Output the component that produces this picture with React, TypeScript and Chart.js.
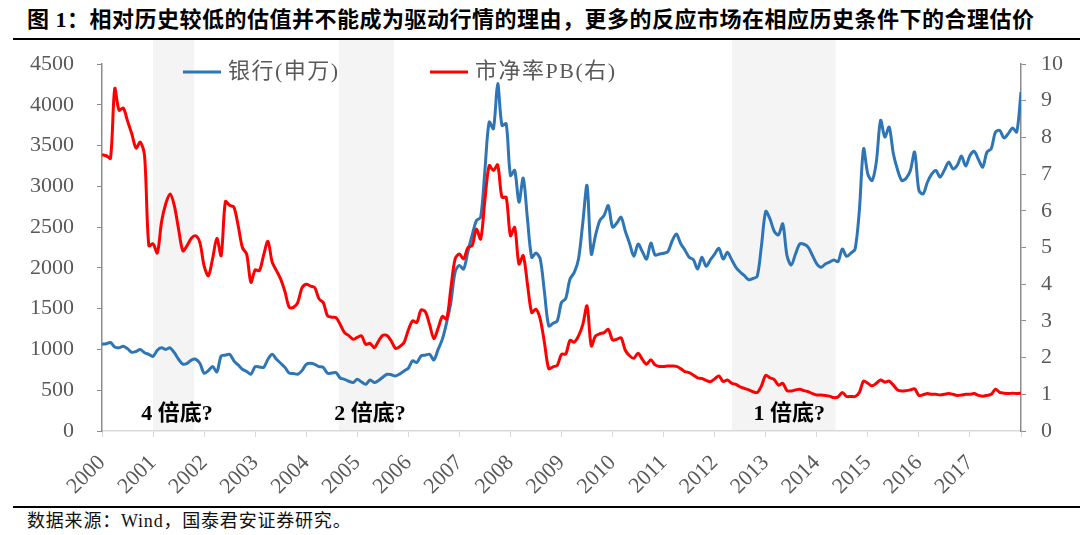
import { useEffect, useRef } from 'react';
import { Chart, registerables } from 'chart.js';

Chart.register(...registerables);

// 银行(申万) monthly index, Jan 2000 – Jan 2018
const bankIndex = [
  1064, 1070, 1085, 1030, 1020, 1040, 1010, 965, 975, 1000, 960, 940,
  915, 990, 1020, 1000, 1020, 960, 880, 820, 830, 870, 880, 830,
  708, 740, 790, 725, 920, 930, 940, 860, 810, 757, 730, 696,
  790, 785, 780, 880, 941, 880, 831, 780, 710, 705, 696, 740,
  818, 830, 818, 790, 780, 708, 710, 716, 650, 634, 610, 594,
  634, 600, 573, 626, 594, 620, 660, 696, 690, 675, 700, 737,
  770, 860, 840, 921, 930, 941, 872, 1000, 1126, 1331, 1577, 1950,
  2030, 1986, 2200, 2400, 2580, 2621, 3200, 3789, 3707, 4260, 3747, 3768,
  3133, 3195, 2806, 3101, 2600, 2130, 2182, 2109, 1700, 1289, 1320, 1351,
  1577, 1626, 1863, 1945, 2109, 2550, 3010, 2170, 2400, 2580, 2641, 2764,
  2500, 2550, 2621, 2450, 2300, 2142, 2293, 2200, 2109, 2305, 2158, 2170,
  2180, 2200, 2330, 2416, 2300, 2220, 2130, 2100, 1986, 2130, 2019, 2100,
  2170, 2240, 2109, 2191, 2100, 2007, 1950, 1904, 1855, 1870, 1896, 2273,
  2691, 2600, 2450, 2404, 2539, 2150, 2035, 2170, 2293, 2290, 2252, 2150,
  2050, 2007, 2047, 2070, 2097, 2076, 2232, 2142, 2180, 2230, 2700, 3461,
  3150, 3071, 3300, 3809, 3605, 3727, 3400, 3200, 3071, 3100, 3194, 3420,
  2950, 2908, 3050, 3150, 3194, 3113, 3200, 3297, 3215, 3256, 3371, 3248,
  3379, 3428, 3330, 3236, 3420, 3461, 3666, 3686, 3593, 3646, 3715, 3666,
  4158,
];

// 市净率PB(右) monthly, Jan 2000 – Jan 2018
const pbRatio = [
  7.53, 7.5, 7.43, 9.33, 8.74, 8.8, 8.45, 8.1, 7.71, 7.87, 7.51, 5.05,
  5.1, 4.85, 5.7, 6.2, 6.46, 6.14, 5.5, 4.91, 5.05, 5.25, 5.32, 5.14,
  4.5, 4.23, 4.7, 5.25, 4.78, 6.25, 6.15, 6.1, 5.6, 5.0, 4.82, 4.05,
  4.39, 4.37, 4.8, 5.17, 4.6, 4.37, 4.14, 3.8, 3.37, 3.37, 3.5, 3.9,
  4.0, 3.95, 3.91, 3.6, 3.5, 3.14, 3.1, 3.09, 2.9, 2.68, 2.6, 2.5,
  2.55, 2.59, 2.36, 2.39, 2.27, 2.45, 2.61, 2.6, 2.45, 2.25, 2.3, 2.41,
  2.75, 3.0, 2.96, 3.3, 3.25, 2.9, 2.52, 2.8, 3.12, 3.05, 3.9, 4.69,
  4.82, 4.69, 5.0, 5.05, 5.5, 5.23, 6.3, 7.23, 7.1, 7.25, 6.37, 6.37,
  5.32, 5.55, 4.55, 4.78, 4.0, 3.23, 3.32, 3.05, 2.4, 1.7, 1.75, 1.79,
  2.09, 2.1, 2.47, 2.42, 2.59, 2.9, 3.41, 2.32, 2.59, 2.65, 2.68, 2.77,
  2.48, 2.5, 2.54, 2.2, 2.05, 1.98, 2.12, 1.95, 1.82, 1.94, 1.8, 1.76,
  1.76, 1.77, 1.77, 1.76, 1.7, 1.62, 1.59, 1.52, 1.45, 1.43, 1.38, 1.34,
  1.42, 1.5, 1.35, 1.39, 1.3, 1.27, 1.2, 1.16, 1.12, 1.07, 1.05, 1.23,
  1.52, 1.45, 1.4, 1.25, 1.3, 1.1, 1.09, 1.12, 1.14, 1.1, 1.07, 1.02,
  0.98, 0.98, 0.97, 0.95, 0.91, 0.93, 1.05, 0.94, 0.94, 0.94, 1.05, 1.36,
  1.3, 1.23, 1.3, 1.39, 1.33, 1.36, 1.25, 1.12, 1.09, 1.1, 1.12, 1.15,
  0.97, 0.99, 1.02, 1.0, 1.0, 0.98, 1.0, 1.02, 1.0, 0.97, 0.98, 1.0,
  1.0, 1.02, 0.97, 0.95, 0.97, 1.0, 1.14, 1.05, 1.03, 1.02, 1.03, 1.02,
  1.03,
];

const firstYear = 2000;
const lastYear = 2018;
const months = bankIndex.map(
  (_, i) => `${firstYear + Math.floor(i / 12)}-${String((i % 12) + 1).padStart(2, '0')}`
);
const monthToYear = (m: string) => {
  const [y, mo] = m.split('-').map(Number);
  return y + (mo - 1) / 12;
};

// shaded periods (decimal years)
const bandStarts = [2001.0, 2004.64, 2012.34];
const bandEnds = [2001.81, 2005.72, 2014.37];

// annotations
const noteTexts = ['4 倍底?', '2 倍底?', '1 倍底?'];
const noteYears = [2001.47, 2005.25, 2013.46];
const noteValues = [210, 210, 210];

const seriesNames = ['银行(申万)', '市净率PB(右)'];
const BLUE = 'rgb(46,117,182)';
const RED = '#ff0000';
const AXIS_GRAY = '#8c8c8c';
const TEXT_GRAY = '#595959';
const SERIF = '"Liberation Serif", "Noto Sans CJK SC", serif';

const bandsPlugin = {
  id: 'bands',
  beforeDraw(chart: any) {
    const { ctx, chartArea, scales } = chart;
    ctx.save();
    ctx.fillStyle = '#f4f4f4';
    bandStarts.forEach((s, i) => {
      const x0 = scales.x.getPixelForValue(s);
      const x1 = scales.x.getPixelForValue(bandEnds[i]);
      ctx.fillRect(x0, 0, x1 - x0, chartArea.bottom - 1);
    });
    ctx.restore();
  },
};

const overlayPlugin = {
  id: 'overlay',
  afterDraw(chart: any) {
    const { ctx, scales } = chart;
    ctx.save();
    const items = [
      { color: BLUE, x: 183, label: seriesNames[0] },
      { color: RED, x: 430, label: seriesNames[1] },
    ];
    const ly = 32;
    items.forEach((it) => {
      ctx.strokeStyle = it.color;
      ctx.lineWidth = 3;
      ctx.beginPath();
      ctx.moveTo(it.x, ly);
      ctx.lineTo(it.x + 38, ly);
      ctx.stroke();
      ctx.font = `22px ${SERIF}`;
      (ctx as any).letterSpacing = '1.5px';
      ctx.fillStyle = TEXT_GRAY;
      ctx.textAlign = 'left';
      ctx.textBaseline = 'middle';
      ctx.fillText(it.label, it.x + 45, ly);
    });
    (ctx as any).letterSpacing = '0px';
    ctx.font = `bold 22px ${SERIF}`;
    ctx.fillStyle = '#000';
    ctx.textAlign = 'center';
    ctx.textBaseline = 'middle';
    noteTexts.forEach((t, i) => {
      ctx.fillText(
        t,
        scales.x.getPixelForValue(noteYears[i]),
        scales.y.getPixelForValue(noteValues[i])
      );
    });
    ctx.restore();
  },
};

const fixVertical = (w: number) => (s: any) => {
  s.width = w;
  s.paddingTop = 0;
  s.paddingBottom = 0;
};

function ChartView() {
  const ref = useRef<HTMLCanvasElement | null>(null);
  useEffect(() => {
    if (!ref.current) return;
    const xs = months.map(monthToYear);
    const chart = new Chart(ref.current, {
      type: 'line',
      data: {
        datasets: [
          {
            label: seriesNames[1],
            data: pbRatio.map((v, i) => ({ x: xs[i], y: v })),
            borderColor: RED,
            borderWidth: 3,
            pointRadius: 0,
            tension: 0.3,
            yAxisID: 'y1',
          },
          {
            label: seriesNames[0],
            data: bankIndex.map((v, i) => ({ x: xs[i], y: v })),
            borderColor: BLUE,
            borderWidth: 3,
            pointRadius: 0,
            tension: 0.3,
            yAxisID: 'y',
          },
        ],
      },
      options: {
        animation: false,
        responsive: false,
        maintainAspectRatio: false,
        layout: { padding: { top: 24, left: 0, right: 0, bottom: 0 } },
        plugins: { legend: { display: false }, tooltip: { enabled: false } },
        scales: {
          x: {
            type: 'linear',
            min: firstYear,
            max: lastYear,
            afterFit: (s: any) => {
              s.height = 74;
              s.paddingLeft = 0;
              s.paddingRight = 0;
            },
            ticks: {
              stepSize: 1,
              autoSkip: false,
              minRotation: 45,
              maxRotation: 45,
              padding: 13,
              color: TEXT_GRAY,
              font: { family: SERIF, size: 22 },
              callback: (v: any) => (v < lastYear ? String(v) : ''),
            },
            grid: { drawOnChartArea: false, drawTicks: true, tickLength: 6, color: '#d9d9d9' },
            border: { color: '#d9d9d9', width: 1.5 },
          },
          y: {
            type: 'linear',
            position: 'left',
            min: 0,
            max: 4500,
            afterFit: fixVertical(102),
            ticks: {
              stepSize: 500,
              padding: 23,
              color: TEXT_GRAY,
              font: { family: SERIF, size: 22 },
              callback: (v: any) => String(v),
            },
            grid: { drawOnChartArea: false, drawTicks: true, tickLength: 5, color: AXIS_GRAY },
            border: { color: AXIS_GRAY, width: 1.5 },
          },
          y1: {
            type: 'linear',
            position: 'right',
            min: 0,
            max: 10,
            afterFit: fixVertical(59),
            ticks: {
              stepSize: 1,
              padding: 15,
              color: TEXT_GRAY,
              font: { family: SERIF, size: 22 },
              callback: (v: any) => String(v),
            },
            grid: { drawOnChartArea: false, drawTicks: true, tickLength: 5, color: AXIS_GRAY },
            border: { color: AXIS_GRAY, width: 1.5 },
          },
        },
      },
      plugins: [bandsPlugin, overlayPlugin],
    } as any);
    return () => chart.destroy();
  }, []);
  return (
    <canvas
      ref={ref}
      width={1080}
      height={465}
      style={{ position: 'absolute', left: 0, top: 40, width: 1080, height: 465 }}
    />
  );
}

export default function App() {
  return (
    <div
      style={{
        position: 'fixed',
        left: 0,
        top: 0,
        width: 1080,
        height: 535,
        background: '#fff',
        overflow: 'hidden',
      }}
    >
      <div
        style={{
          position: 'absolute',
          left: 27,
          top: 6,
          fontFamily: SERIF,
          fontWeight: 'bold',
          fontSize: 22,
          letterSpacing: 0.5,
          lineHeight: '28px',
          whiteSpace: 'nowrap',
          color: '#000',
        }}
      >
        图 1：相对历史较低的估值并不能成为驱动行情的理由，更多的反应市场在相应历史条件下的合理估价
      </div>
      <div style={{ position: 'absolute', left: 13, top: 38, width: 1067, height: 2, background: '#000' }} />
      <ChartView />
      <div style={{ position: 'absolute', left: 13, top: 506, width: 1067, height: 2, background: '#000' }} />
      <div
        style={{
          position: 'absolute',
          left: 27,
          top: 510,
          fontFamily: SERIF,
          fontSize: 18,
          letterSpacing: 0.8,
          lineHeight: '22px',
          whiteSpace: 'nowrap',
          color: '#111',
        }}
      >
        数据来源：Wind，国泰君安证券研究。
      </div>
    </div>
  );
}
